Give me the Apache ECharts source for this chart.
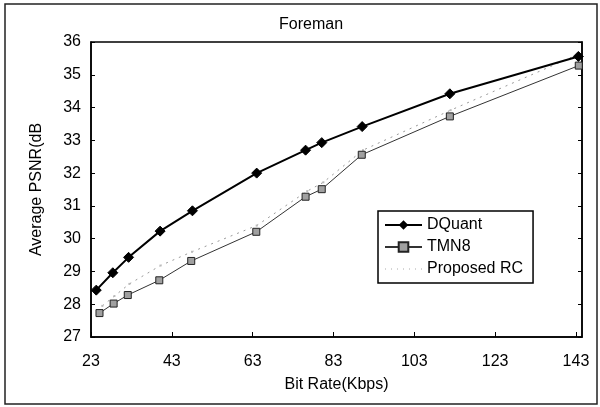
<!DOCTYPE html>
<html>
<head>
<meta charset="utf-8">
<script src="https://cdn.jsdelivr.net/npm/echarts@6/dist/echarts.min.js"></script>
<style>html,body{margin:0;padding:0;background:#fff}#c{width:600px;height:407px}</style>
</head>
<body>
<div id="c"></div>
<script>
const titleText = 'Foreman';
const xName = 'Bit Rate(Kbps)';
const yName = 'Average PSNR(dB';
const seriesNames = ['DQuant', 'TMN8', 'Proposed RC'];

const rateDQuant = [24.3, 28.4, 32.3, 40.1, 48.1, 64.0, 76.1, 80.1, 90.1, 111.8, 143.6];
const psnrDQuant = [28.43, 28.96, 29.43, 30.23, 30.85, 32.0, 32.7, 32.93, 33.42, 34.42, 35.56];

const rateTMN8 = [25.1, 28.6, 32.1, 39.9, 47.8, 63.9, 76.1, 80.1, 90.0, 111.8, 143.7];
const psnrTMN8 = [27.73, 28.02, 28.28, 28.73, 29.32, 30.21, 31.28, 31.51, 32.56, 33.73, 35.28];

const rateRC = [25.8, 28.8, 32.5, 40.2, 48.0, 64.0, 76.5, 80.5, 90.3, 112.0, 143.7];
const psnrRC = [27.95, 28.25, 28.62, 29.18, 29.6, 30.4, 31.45, 31.72, 32.7, 33.92, 35.63];

const zip = (a, b) => a.map((v, i) => [v, b[i]]);

const chart = echarts.init(document.getElementById('c'));
const font = 'Liberation Sans, Arial, sans-serif';
chart.setOption({
  animation: false,
  backgroundColor: '#fff',
  textStyle: { fontFamily: font, color: '#000' },
  title: {
    text: titleText, left: 274, top: 12,
    textStyle: { fontFamily: font, fontSize: 16, fontWeight: 'normal', color: '#000' }
  },
  graphic: [{
    type: 'rect', shape: { x: 5, y: 4, width: 592, height: 400 },
    style: { fill: 'none', stroke: '#222', lineWidth: 1.5 }, silent: true
  }],
  grid: { left: 91, right: 18, top: 42, bottom: 70, show: true, borderColor: '#000', borderWidth: 1.5, backgroundColor: 'transparent' },
  legend: {
    orient: 'vertical', left: 378, top: 211, width: 153,
    padding: [6, 10, 6, 6], itemGap: 6, itemWidth: 37, itemHeight: 12,
    borderColor: '#000', borderWidth: 1.5, backgroundColor: '#fff',
    textStyle: { fontFamily: font, fontSize: 16, color: '#000' },
    data: [
      { name: seriesNames[0] },
      { name: seriesNames[1] },
      { name: seriesNames[2], itemStyle: { opacity: 0 }, lineStyle: { color: '#aaa', width: 1, type: [1, 5] } }
    ]
  },
  xAxis: {
    type: 'value', min: 23, max: 144.5, interval: 20,
    name: xName, nameLocation: 'middle', nameGap: 40,
    nameTextStyle: { fontFamily: font, fontSize: 16, color: '#000' },
    axisLine: { lineStyle: { color: '#000', width: 1.5 } },
    axisTick: { inside: true, length: 5, lineStyle: { color: '#000' } },
    axisLabel: { margin: 17, fontSize: 16, color: '#000', fontFamily: font, showMaxLabel: false },
    splitLine: { show: false }
  },
  yAxis: [{
    type: 'value', min: 27, max: 36, interval: 1,
    name: yName, nameLocation: 'middle', nameGap: 46,
    nameTextStyle: { fontFamily: font, fontSize: 16, color: '#000' },
    axisLine: { lineStyle: { color: '#000', width: 1.5 } },
    axisTick: { inside: true, length: 4, lineStyle: { color: '#000' } },
    axisLabel: { margin: 10, fontSize: 16, color: '#000', fontFamily: font },
    splitLine: { show: false }
  }, {
    type: 'value', min: 27, max: 36, interval: 1, position: 'right',
    axisLine: { show: true, lineStyle: { color: '#000', width: 1.5 } },
    axisTick: { inside: true, length: 4, lineStyle: { color: '#000' } },
    axisLabel: { show: false }, splitLine: { show: false }
  }],
  series: [{
    name: seriesNames[0], type: 'line', data: zip(rateDQuant, psnrDQuant),
    symbol: 'diamond', symbolSize: 10, z: 5,
    lineStyle: { color: '#000', width: 2 },
    itemStyle: { color: '#000', borderColor: '#000' }
  }, {
    name: seriesNames[1], type: 'line', data: zip(rateTMN8, psnrTMN8),
    symbol: 'rect', symbolSize: 7, z: 4,
    lineStyle: { color: '#333', width: 1 },
    itemStyle: { color: '#a0a0a0', borderColor: '#222', borderWidth: 1 }
  }, {
    name: seriesNames[2], type: 'line', data: zip(rateRC, psnrRC),
    symbol: 'rect', symbolSize: 2, z: 3,
    lineStyle: { color: '#999', width: 1, type: [2, 5] },
    itemStyle: { color: '#bbb', borderWidth: 0 }
  }]
});
</script>
</body>
</html>
